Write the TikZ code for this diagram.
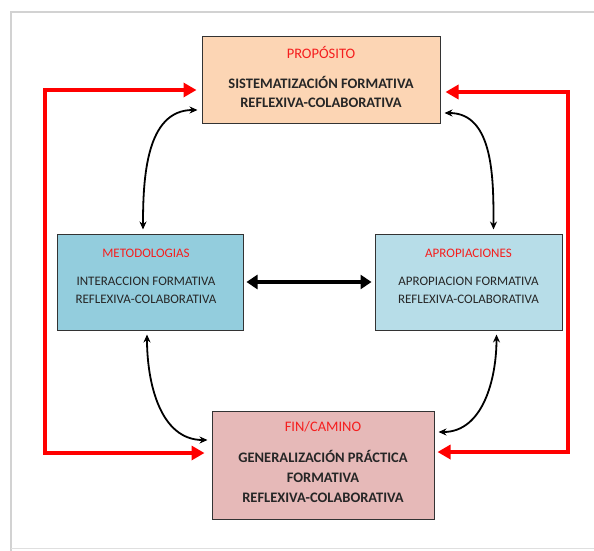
\documentclass[tikz,border=0pt]{standalone}
\usepackage{fontspec}
\setmainfont{Carlito}
\usetikzlibrary{arrows.meta}
\definecolor{propfill}{HTML}{FCD5B4}
\definecolor{metfill}{HTML}{93CDDD}
\definecolor{aprfill}{HTML}{B7DDE8}
\definecolor{finfill}{HTML}{E6B9B8}
\definecolor{titred}{HTML}{F51E1E}
\begin{document}
\begin{tikzpicture}[x=1pt, y=-1pt,
   box/.style={draw=black!80, line width=1pt, inner sep=0pt},
   boxtext/.style={align=center, inner sep=0pt, text=black!85},
   redline/.style={draw=red, line width=3.5pt, {Triangle[length=13pt,width=14pt]}-{Triangle[length=13pt,width=14pt]}},
   curvy/.style={line width=1.8pt, {Stealth[length=8pt,width=7pt]}-{Stealth[length=8pt,width=7pt]}},
   bigarrow/.style={line width=4pt, {Triangle[length=11pt,width=14pt]}-{Triangle[length=11pt,width=14pt]}}]
   \useasboundingbox (0,0) rectangle (594,551);
   % frame of the page
   \draw[gray!35, line width=1.5pt] (11,551) -- (11,12) -- (594,12);
   \draw[gray!25, line width=1pt] (11,548) -- (594,548);

   \node[box, fill=propfill, minimum width=238pt, minimum height=86pt] (prop) at (321,80) {};
   \node[box, fill=metfill, minimum width=186pt, minimum height=96pt] (met) at (150,282) {};
   \node[box, fill=aprfill, minimum width=187pt, minimum height=96pt] (apr) at (468.5,282) {};
   \node[box, fill=finfill, minimum width=222pt, minimum height=108pt] (fin) at (323,465) {};

   \node[boxtext, font=\fontsize{14.5}{19}\selectfont] (proptext) at (321,76.5)
      {\textcolor{titred}{PROPÓSITO}\\[11pt]\textbf{SISTEMATIZACIÓN FORMATIVA}\\\textbf{REFLEXIVA-COLABORATIVA}};
   \node[boxtext, font=\fontsize{13}{18}\selectfont] (mettext) at (146,276.5)
      {\textcolor{titred}{METODOLOGIAS}\\[10pt]INTERACCION FORMATIVA\\REFLEXIVA-COLABORATIVA};
   \node[boxtext, font=\fontsize{13}{18}\selectfont] (aprtext) at (468.5,276.5)
      {\textcolor{titred}{APROPIACIONES}\\[10pt]APROPIACION FORMATIVA\\REFLEXIVA-COLABORATIVA};
   \node[boxtext, font=\fontsize{14.5}{20}\selectfont] (fintext) at (323,462.5)
      {\textcolor{titred}{FIN/CAMINO}\\[11pt]\textbf{GENERALIZACIÓN PRÁCTICA}\\\textbf{FORMATIVA}\\\textbf{REFLEXIVA-COLABORATIVA}};

   \coordinate (lc) at (45,270);
   \coordinate (rc) at (568,270);

   % red loops
   \draw[redline] ([xshift=-5pt,yshift=-10pt]prop.west) -| (lc) |- ([xshift=-7pt,yshift=12pt]fin.west);
   \draw[redline] ([xshift=5pt,yshift=-12pt]prop.east) -| (rc) |- ([xshift=3pt,yshift=13pt]fin.east);

   % curved links
   \draw[curvy] ([xshift=-7pt,yshift=4pt]met.north) to[out=90, in=180] ([xshift=-4pt,yshift=-30pt]prop.west);
   \draw[curvy] ([xshift=4pt,yshift=-33pt]prop.east) to[out=0, in=90] ([xshift=25pt,yshift=4pt]apr.north);
   \draw[curvy] ([xshift=-3pt,yshift=-4pt]met.south) to[out=-90, in=180] ([xshift=-4pt,yshift=25pt]fin.west);
   \draw[curvy] ([xshift=28pt,yshift=-4pt]apr.south) to[out=-90, in=0] ([xshift=4pt,yshift=33pt]fin.east);

   \draw[bigarrow] ([xshift=3pt]met.east) -- ([xshift=-3pt]apr.west);
\end{tikzpicture}
\end{document}
